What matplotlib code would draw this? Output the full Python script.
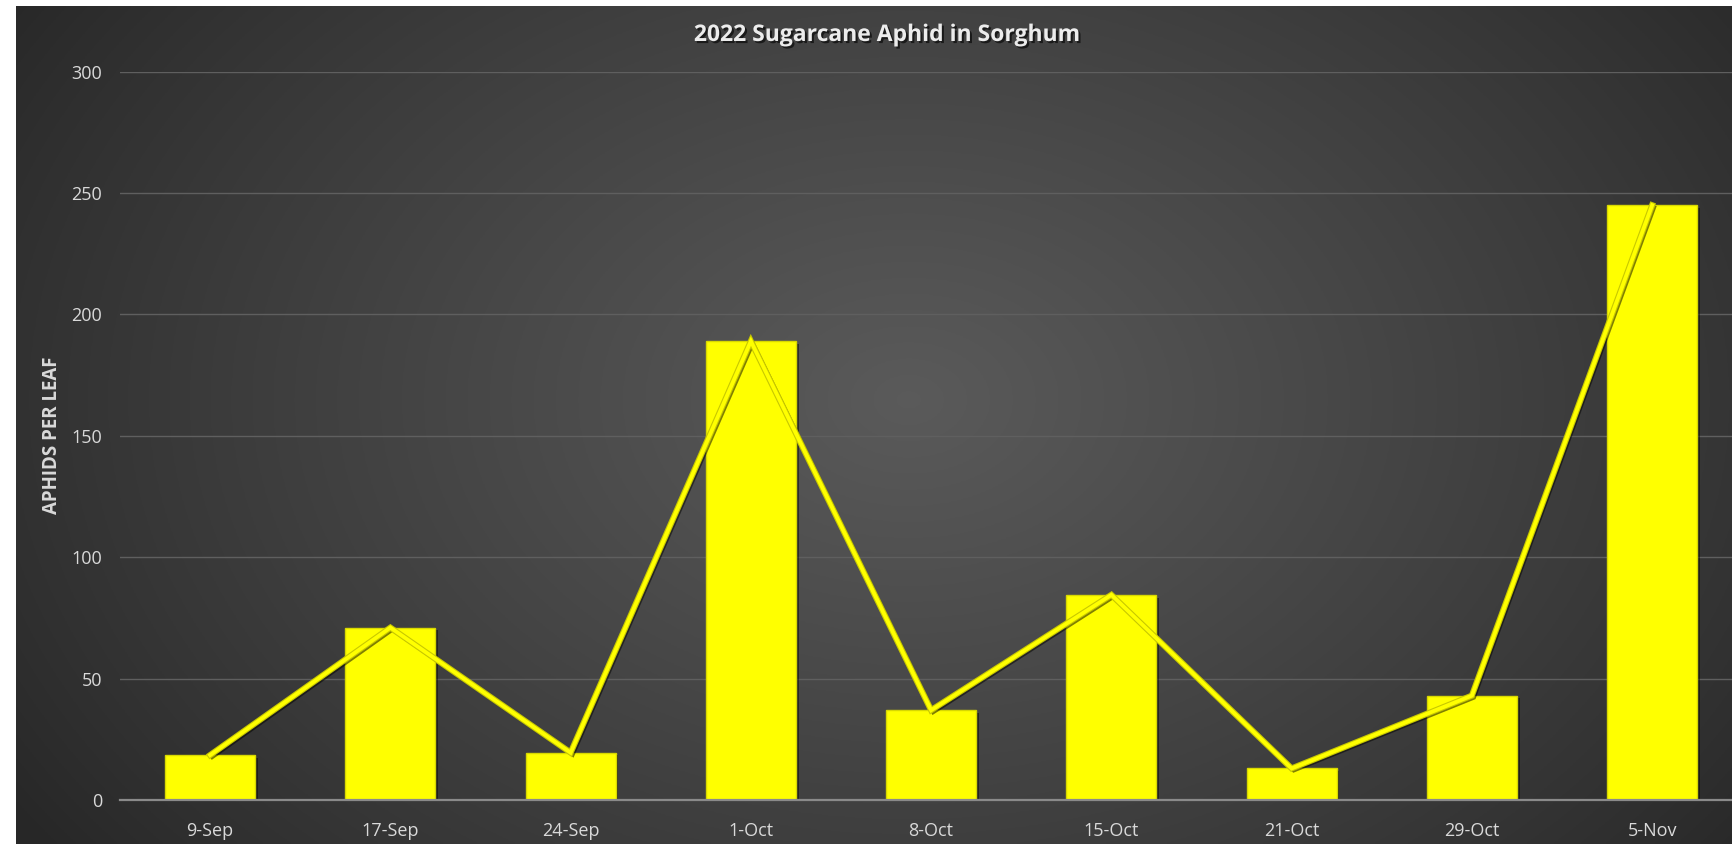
# Sugarcane aphid counts in sorghum, 2022 season: bars with a connecting line.

import matplotlib
matplotlib.use('Agg')
import matplotlib.pyplot as plt
import matplotlib.patheffects as pe
import numpy as np

# Data
dates = ['9-Sep', '17-Sep', '24-Sep', '1-Oct', '8-Oct', '15-Oct', '21-Oct', '29-Oct', '5-Nov']
aphids = [18.5, 71, 19.5, 189, 37, 84.5, 13, 43, 245]
y_ticks = [0, 50, 100, 150, 200, 250, 300]

W, H = 1733, 844
dpi = 100
plt.rcParams['font.family'] = ['Open Sans', 'DejaVu Sans']

fig = plt.figure(figsize=(W / dpi, H / dpi), dpi=dpi, facecolor='white')

# Dark chart area with a soft radial glow in the middle
bg = fig.add_axes([16 / W, 0, 1 - 16 / W, 1 - 6 / H])
bg.set_axis_off()
gx, gy = np.meshgrid(np.linspace(0, 1, 600), np.linspace(0, 1, 300))
r = np.sqrt(((gx - 0.52) / 0.62) ** 2 + ((gy - 0.47) / 0.9) ** 2)
shade = 0.155 + 0.2 * np.clip(1 - r, 0, 1) ** 0.9
bg.imshow(np.dstack([shade] * 3), aspect='auto', extent=[0, 1, 0, 1], origin='upper')

# Plot area
x0, x1 = 120, 120 + 9 * 180.25
y0, y1 = 800, 71.7
ax = fig.add_axes([x0 / W, (H - y0) / H, (x1 - x0) / W, (y0 - y1) / H])
ax.patch.set_alpha(0)

x = np.arange(len(dates))
bar_fx = [pe.SimplePatchShadow(offset=(2, -2), alpha=0.45, shadow_rgbFace='black'), pe.Normal()]
bars = ax.bar(x, aphids, width=0.5, color='#ffff00', edgecolor='#d8d800', linewidth=1, zorder=3)
for b in bars:
    b.set_path_effects(bar_fx)

line_fx = [pe.SimpleLineShadow(offset=(1.5, -1.5), alpha=0.5, shadow_color='black'),
           pe.Stroke(linewidth=4.4, foreground='#c8c800'),
           pe.Stroke(linewidth=2.8, foreground='#ffff00')]
ax.plot(x, aphids, color='#ffff00', linewidth=2.8, zorder=4, path_effects=line_fx,
        solid_joinstyle='miter')

ax.set_xlim(-0.5, len(dates) - 0.5)
ax.set_ylim(0, 300)
ax.set_yticks(y_ticks)
ax.set_xticks(x)
ax.set_xticklabels(dates)
ax.grid(axis='y', color='#5f5f5f', linewidth=1)
ax.set_axisbelow(True)
for s in ['top', 'right', 'left']:
    ax.spines[s].set_visible(False)
ax.spines['bottom'].set_color('#8a8a8a')
ax.spines['bottom'].set_linewidth(1.6)
ax.spines['bottom'].set_zorder(5)
ax.tick_params(axis='both', length=0, colors='#d9d9d9', labelsize=13)
ax.tick_params(axis='y', pad=13)
ax.tick_params(axis='x', pad=16)

fig.text(52 / W, 1 - 435 / H, 'APHIDS PER LEAF', rotation=90, ha='center', va='center',
         color='#d9d9d9', fontsize=13.5, fontweight='bold')

title = fig.text(887 / W, 1 - 35 / H, '2022 Sugarcane Aphid in Sorghum', ha='center', va='center',
                 color='#ececec', fontsize=16.5, fontweight='bold')
title.set_path_effects([pe.withSimplePatchShadow(offset=(1.5, -1.5), alpha=0.6, shadow_rgbFace='black')])

fig.savefig('out.png', dpi=dpi, facecolor='white')
